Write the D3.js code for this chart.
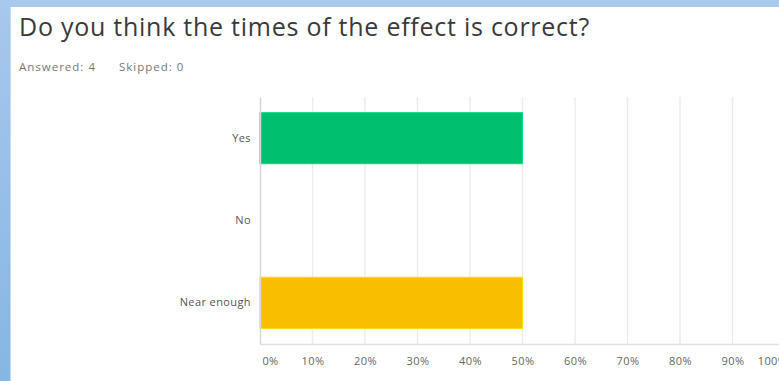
<!DOCTYPE html>
<html>
<head>
<meta charset="utf-8">
<script src="https://cdn.jsdelivr.net/npm/d3@7"></script>
<style>
  html, body { margin: 0; padding: 0; background: #fff; }
  svg { display: block; }
</style>
</head>
<body>
<div id="chart"></div>
<script>
const title = 'Do you think the times of the effect is correct?';
const answered = 4;
const skipped = 0;

const categories = ['Yes', 'No', 'Near enough'];
const percentages = [50, 0, 50];
const barColors = ['#00bf6f', '#00bf6f', '#f9be00'];
const xTicks = [0, 10, 20, 30, 40, 50, 60, 70, 80, 90, 100];

const width = 779;
const height = 381;
const margin = { top: 97, right: -6, bottom: 37, left: 260 };
const font = 'Open Sans, sans-serif';

const svg = d3.select('#chart')
  .append('svg')
  .attr('width', width)
  .attr('height', height);

// blue frame round the panel
const grad = svg.append('defs').append('linearGradient')
  .attr('id', 'frame')
  .attr('x1', 0).attr('y1', 0).attr('x2', 0).attr('y2', 1);
grad.append('stop').attr('offset', '0%').attr('stop-color', '#a8c8ec');
grad.append('stop').attr('offset', '100%').attr('stop-color', '#86b6e3');

svg.append('rect').attr('width', width).attr('height', 7).attr('fill', '#a8c8ec');
svg.append('rect').attr('width', 11).attr('height', height).attr('fill', 'url(#frame)');
svg.append('rect').attr('x', 10).attr('y', 7).attr('width', 1).attr('height', height - 7).attr('fill', '#c4dcf3');

svg.append('text')
  .attr('x', 19)
  .attr('y', 36)
  .attr('font-family', font)
  .attr('font-size', 25)
  .attr('letter-spacing', 0.75)
  .attr('fill', '#3a3a3a')
  .text(title);

svg.append('text')
  .attr('x', 19)
  .attr('y', 71)
  .attr('font-family', font)
  .attr('font-size', 11.5)
  .attr('letter-spacing', 1)
  .attr('fill', '#777')
  .text(`Answered: ${answered}`);

svg.append('text')
  .attr('x', 119)
  .attr('y', 71)
  .attr('font-family', font)
  .attr('font-size', 11.5)
  .attr('letter-spacing', 1)
  .attr('fill', '#777')
  .text(`Skipped: ${skipped}`);

const innerWidth = width - margin.left - margin.right;
const innerHeight = height - margin.top - margin.bottom;

const x = d3.scaleLinear()
  .domain([0, 100])
  .range([0, innerWidth]);

const y = d3.scaleBand()
  .domain(categories)
  .range([0, innerHeight])
  .paddingInner(0.38)
  .paddingOuter(0.19);

const g = svg.append('g')
  .attr('transform', `translate(${margin.left}, ${margin.top})`);

// gridlines
g.selectAll('line.grid')
  .data(xTicks.slice(1))
  .join('line')
  .attr('class', 'grid')
  .attr('x1', d => x(d))
  .attr('x2', d => x(d))
  .attr('y1', 0)
  .attr('y2', innerHeight)
  .attr('stroke', '#ececec')
  .attr('stroke-width', 1.5);

g.selectAll('rect.bar')
  .data(categories)
  .join('rect')
  .attr('class', 'bar')
  .attr('x', x(0))
  .attr('y', d => y(d))
  .attr('width', (d, i) => x(percentages[i]) - x(0))
  .attr('height', y.bandwidth())
  .attr('fill', (d, i) => barColors[i])
  .attr('stroke', (d, i) => percentages[i] > 0 ? d3.color(barColors[i]).brighter(0.4) : 'none')
  .attr('stroke-width', 1);

// bottom axis
const xAxis = g.append('g')
  .attr('transform', `translate(0, ${innerHeight})`)
  .call(d3.axisBottom(x).tickValues(xTicks).tickSize(0).tickPadding(13).tickFormat(d => d + '%'));
xAxis.select('.domain').attr('stroke', '#e0e0e0').attr('stroke-width', 1.5);
xAxis.selectAll('text')
  .attr('font-family', font)
  .attr('font-size', 11)
  .attr('letter-spacing', 0.4)
  .attr('fill', '#666')
  .attr('dx', d => d === 0 ? 10 : d === 100 ? -13 : 0);

// left axis
const yAxis = g.append('g')
  .call(d3.axisLeft(y).tickSize(0).tickPadding(9));
yAxis.select('.domain').attr('stroke', '#d6d6d6').attr('stroke-width', 1.5);
yAxis.selectAll('text')
  .attr('font-family', font)
  .attr('font-size', 11)
  .attr('letter-spacing', 0.4)
  .attr('fill', '#555');
</script>
</body>
</html>
